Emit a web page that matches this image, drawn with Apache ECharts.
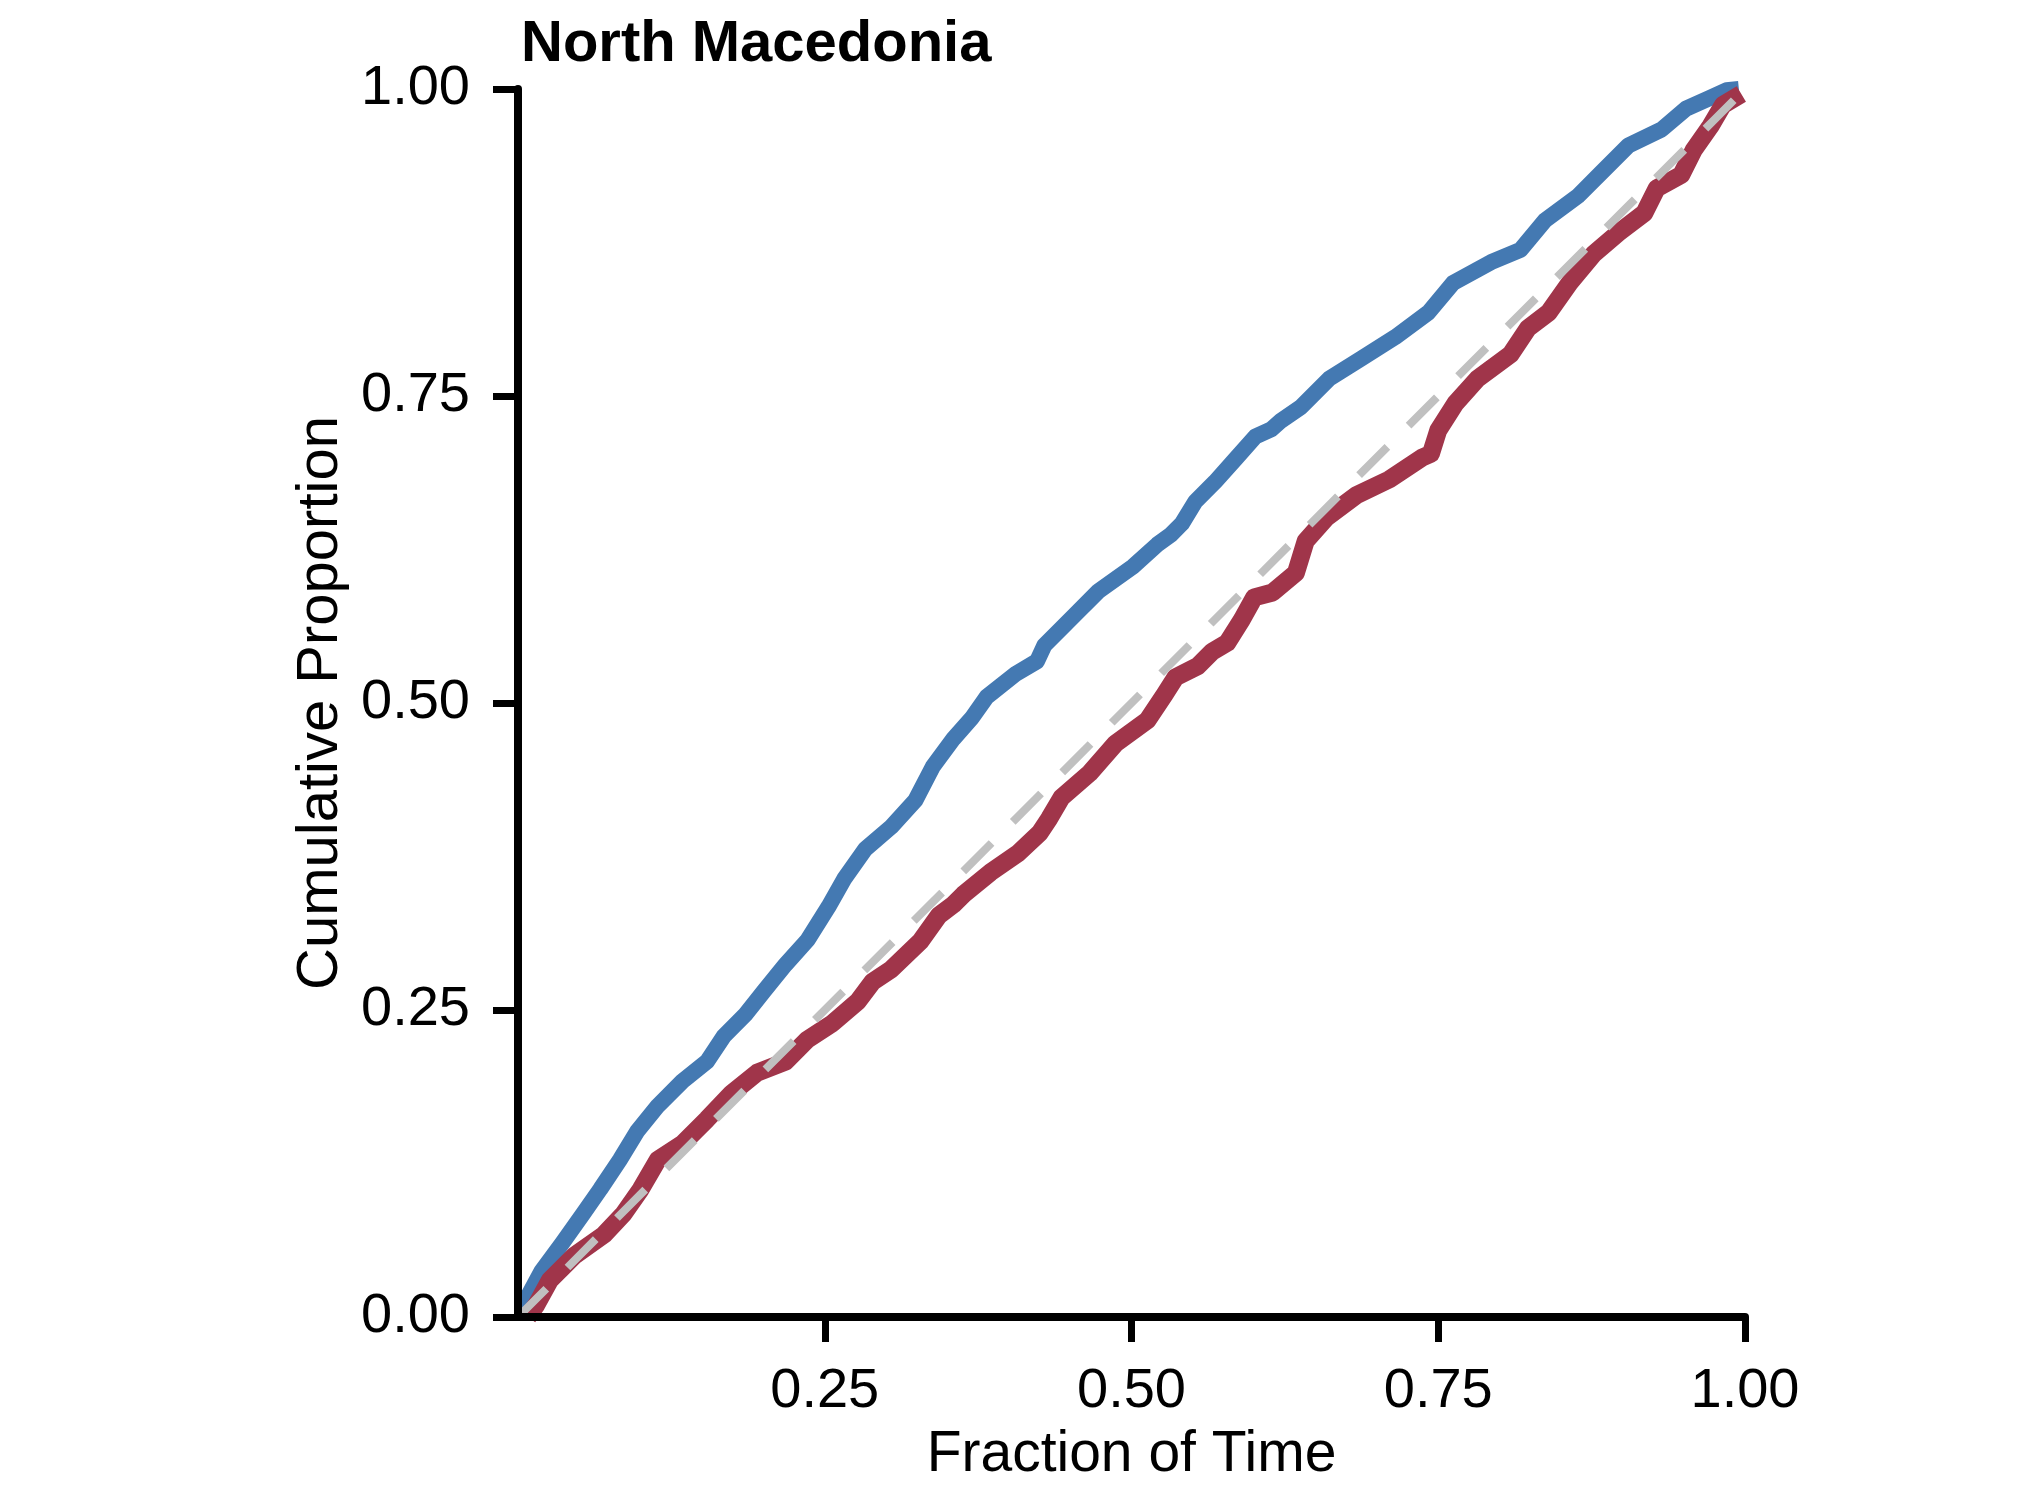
<!DOCTYPE html>
<html>
<head>
<meta charset="utf-8">
<script src="https://cdn.jsdelivr.net/npm/echarts@6/dist/echarts.min.js"></script>
<style>
html,body{margin:0;padding:0;background:#fff;}
#chart{width:2040px;height:1500px;}
</style>
</head>
<body>
<div id="chart"></div>
<script>
const titleText = "North Macedonia";
const xAxisName = "Fraction of Time";
const yAxisName = "Cumulative Proportion";
const xTickValues = [0.25, 0.5, 0.75, 1.0];
const yTickValues = [0, 0.25, 0.5, 0.75, 1.0];

const blueX = [0.000,0.006,0.019,0.036,0.053,0.067,0.083,0.097,0.114,0.134,0.154,0.168,0.185,0.201,0.218,0.236,0.253,0.266,0.283,0.304,0.324,0.338,0.355,0.370,0.382,0.406,0.423,0.429,0.453,0.473,0.501,0.521,0.532,0.541,0.552,0.568,0.585,0.601,0.614,0.622,0.638,0.661,0.688,0.715,0.742,0.762,0.793,0.817,0.837,0.864,0.884,0.905,0.932,0.952,0.972,0.985,0.995];
const blueY = [0.010,0.013,0.037,0.060,0.084,0.104,0.128,0.151,0.172,0.192,0.208,0.229,0.246,0.266,0.287,0.307,0.334,0.357,0.381,0.399,0.421,0.448,0.471,0.488,0.505,0.524,0.534,0.547,0.571,0.591,0.611,0.629,0.637,0.646,0.664,0.680,0.699,0.717,0.723,0.730,0.741,0.764,0.781,0.798,0.818,0.842,0.859,0.869,0.893,0.913,0.933,0.954,0.967,0.984,0.993,0.999,1.000];

const redX = [0.008,0.015,0.026,0.046,0.070,0.086,0.100,0.114,0.134,0.154,0.174,0.195,0.218,0.236,0.256,0.277,0.289,0.304,0.328,0.343,0.355,0.363,0.385,0.408,0.425,0.433,0.443,0.466,0.487,0.513,0.527,0.536,0.554,0.566,0.578,0.590,0.600,0.615,0.634,0.642,0.659,0.683,0.710,0.737,0.744,0.750,0.764,0.782,0.809,0.823,0.840,0.857,0.877,0.897,0.918,0.928,0.948,0.958,0.972,0.982,0.997];
const redY = [0.000,0.010,0.030,0.050,0.067,0.084,0.104,0.128,0.141,0.161,0.182,0.199,0.208,0.226,0.239,0.257,0.273,0.283,0.306,0.327,0.336,0.344,0.362,0.378,0.394,0.406,0.423,0.443,0.467,0.486,0.507,0.521,0.530,0.542,0.549,0.568,0.586,0.590,0.606,0.632,0.651,0.669,0.682,0.700,0.703,0.722,0.744,0.764,0.784,0.805,0.818,0.842,0.866,0.883,0.899,0.919,0.930,0.950,0.970,0.987,0.996];

const diagX = [0, 1];
const diagY = [0, 1];

function pairs(xs, ys){ return xs.map((x,i)=>[x, ys[i]]); }

const FONT = "'Liberation Sans', Arial, Helvetica, sans-serif";
const chart = echarts.init(document.getElementById('chart'), null, {renderer:'canvas'});
chart.setOption({
  backgroundColor: '#ffffff',
  animation: false,
  title: {
    text: titleText,
    left: 516, top: 11,
    textStyle: {fontFamily: FONT, fontSize: 58, fontWeight: 'bold', color: '#000'}
  },
  grid: {left: 518, top: 89, width: 1227, height: 1228, containLabel: false},
  xAxis: {
    type: 'value', min: 0, max: 1, interval: 0.25, z: 10,
    name: xAxisName, nameLocation: 'middle', nameGap: 110,
    nameTextStyle: {fontFamily: FONT, fontSize: 57, color: '#000'},
    axisLine: {show: true, onZero: false, lineStyle: {color: '#000', width: 8}},
    axisTick: {show: true, inside: false, length: 25, customValues: xTickValues, lineStyle: {color: '#000', width: 7}},
    axisLabel: {show: true, margin: 47, customValues: xTickValues, fontFamily: FONT, fontSize: 56, color: '#000',
      formatter: v => v.toFixed(2)},
    splitLine: {show: false}
  },
  yAxis: {
    type: 'value', min: 0, max: 1, interval: 0.25, z: 10,
    name: yAxisName, nameLocation: 'middle', nameGap: 167, nameRotate: 90,
    nameTextStyle: {fontFamily: FONT, fontSize: 58, color: '#000'},
    axisLine: {show: true, onZero: false, lineStyle: {color: '#000', width: 8}},
    axisTick: {show: true, inside: false, length: 25, customValues: yTickValues, lineStyle: {color: '#000', width: 7}},
    axisLabel: {show: true, margin: 48, customValues: yTickValues, fontFamily: FONT, fontSize: 56, color: '#000',
      formatter: v => v.toFixed(2)},
    splitLine: {show: false}
  },
  series: [
    {
      type: 'line', data: pairs(blueX, blueY), showSymbol: false, symbol: 'none',
      lineStyle: {color: '#4479b2', width: 16, join: 'round', cap: 'butt'}, z: 2, clip: true
    },
    {
      type: 'line', data: pairs(redX, redY), showSymbol: false, symbol: 'none',
      lineStyle: {color: '#a0354a', width: 18, join: 'round', cap: 'butt'}, z: 3, clip: true
    },
    {
      type: 'line', data: pairs(diagX, diagY), showSymbol: false, symbol: 'none',
      lineStyle: {color: '#c0c0c0', width: 8, type: [40, 30]}, z: 4, clip: true
    }
  ]
});
</script>
</body>
</html>
